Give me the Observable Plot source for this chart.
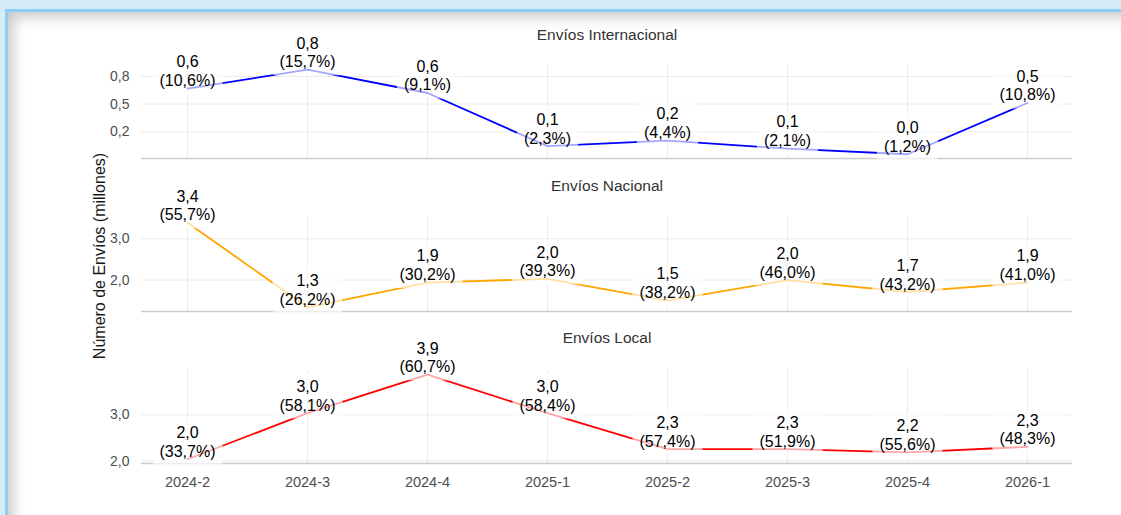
<!DOCTYPE html>
<html>
<head>
<meta charset="utf-8">
<script src="https://cdn.jsdelivr.net/npm/d3@7"></script>
<script src="https://cdn.jsdelivr.net/npm/@observablehq/plot@0.6"></script>
<style>
html, body { margin:0; padding:0; width:1121px; height:515px; overflow:hidden; background:#d5ecf9; font-family:"Liberation Sans", Arial, sans-serif; }
#card { position:absolute; left:5px; top:9px; width:1300px; height:700px; background:#fff;
  border-left:3px solid #8ccff0; border-top:3px solid #8ccff0;
  box-shadow: inset 5px 5px 14px rgba(0,0,0,0.22); }
.panel { position:absolute; left:0; }
#ylab { position:absolute; left:100px; top:256px; transform:translate(-50%,-50%) rotate(-90deg);
  font-size:16px; color:#1a1a1a; white-space:nowrap; }
</style>
</head>
<body>
<div id="card"></div>
<div id="ylab">Número de Envíos (millones)</div>
<div id="p1" class="panel" style="top:0px"></div>
<div id="p2" class="panel" style="top:160px"></div>
<div id="p3" class="panel" style="top:313px"></div>
<script>
// ---- data (millions of shipments, and share of the quarter's total) ----
const quarters = ["2024-2","2024-3","2024-4","2025-1","2025-2","2025-3","2025-4","2026-1"];

const intlValues  = [0.64, 0.81, 0.60, 0.12, 0.17, 0.098, 0.047, 0.51];
const intlPct     = [10.6, 15.7, 9.1, 2.3, 4.4, 2.1, 1.2, 10.8];

const nacValues   = [3.39, 1.34, 1.94, 2.03, 1.50, 2.00, 1.71, 1.94];
const nacPct      = [55.7, 26.2, 30.2, 39.3, 38.2, 46.0, 43.2, 41.0];

const localValues = [2.04, 3.04, 3.87, 3.04, 2.26, 2.26, 2.19, 2.31];
const localPct    = [33.7, 58.1, 60.7, 58.4, 57.4, 51.9, 55.6, 48.3];

const intlTicks = [0.25, 0.5, 0.75];
const intlTickLabels = ["0,2", "0,5", "0,8"];
const nacTicks = [2, 3];
const nacTickLabels = ["2,0", "3,0"];
const localTicks = [2, 3];
const localTickLabels = ["2,0", "3,0"];

const titles = ["Envíos Internacional", "Envíos Nacional", "Envíos Local"];
const colors = ["#0000ff", "#ffa500", "#ff0000"];

const fmt = v => v.toFixed(1).replace(".", ",");
const FONT = "Liberation Sans, Arial, sans-serif";

function addBoxes(svg) {
  svg.querySelectorAll('g[aria-description="value labels"] text').forEach(t => {
    const b = t.getBBox();
    const r = document.createElementNS("http://www.w3.org/2000/svg", "rect");
    r.setAttribute("x", b.x - 7);
    r.setAttribute("y", b.y - 4);
    r.setAttribute("width", b.width + 14);
    r.setAttribute("height", b.height + 9);
    r.setAttribute("rx", 3);
    r.setAttribute("fill", "#ffffff");
    r.setAttribute("fill-opacity", 0.65);
    r.setAttribute("stroke", "none");
    const tr = t.getAttribute("transform");
    if (tr) r.setAttribute("transform", tr);
    t.parentNode.insertBefore(r, t);
  });
}

function panel(el, {values, pct, color, title, ticks, tickLabels, marginTop, height, marginBottom, titleDy, showX}) {
  const data = quarters.map((q, i) => ({q, v: values[i], label: fmt(values[i]) + "\n(" + fmt(pct[i]) + "%)"}));
  const mn = d3.min(values), mx = d3.max(values), r = mx - mn;
  const y0 = mn - 0.05 * r, y1 = mx + 0.05 * r;
  const tickMap = new Map(ticks.map((t, i) => [t, tickLabels[i]]));
  const marks = [
    Plot.gridX(quarters, {stroke: "#ebebeb", strokeOpacity: 1, strokeWidth: 1}),
    Plot.gridY(ticks, {stroke: "#ebebeb", strokeOpacity: 1, strokeWidth: 1}),
    Plot.axisY(ticks, {tickFormat: d => tickMap.get(d), tickSize: 0, tickPadding: 12, line: true,
      stroke: "#cccccc", strokeWidth: 1.5, fill: "#4d4d4d", fontSize: 14, label: null}),
    Plot.ruleY([y0], {stroke: "#cccccc", strokeWidth: 1.5}),
    Plot.line(data, {x: "q", y: "v", stroke: color, strokeWidth: 1.8}),
    Plot.text(data, {x: "q", y: "v", text: "label", lineAnchor: "bottom", dy: -2.5, fontSize: 16,
      lineHeight: 1.17, fill: "#000000", ariaDescription: "value labels"}),
    Plot.text([title], {frameAnchor: "top", lineAnchor: "middle", dy: titleDy, fontSize: 15.5, fill: "#333333"})
  ];
  if (showX) marks.push(Plot.axisX(quarters, {tickSize: 0, tickPadding: 13, fontSize: 14.5, fill: "#4d4d4d", label: null}));
  const svg = Plot.plot({
    width: 1121, height, marginLeft: 141, marginRight: 49, marginTop, marginBottom,
    style: {fontFamily: FONT, background: "transparent", overflow: "visible"},
    x: {type: "point", domain: quarters, padding: 0.35, axis: null, label: null},
    y: {domain: [y0, y1], axis: null, label: null},
    marks
  });
  el.appendChild(svg);
  addBoxes(svg);
}

panel(document.getElementById("p1"), {values: intlValues, pct: intlPct, color: colors[0], title: titles[0],
  ticks: intlTicks, tickLabels: intlTickLabels, marginTop: 65, height: 160, marginBottom: 2, titleDy: -30, showX: false});
panel(document.getElementById("p2"), {values: nacValues, pct: nacPct, color: colors[1], title: titles[1],
  ticks: nacTicks, tickLabels: nacTickLabels, marginTop: 58, height: 153, marginBottom: 2, titleDy: -32, showX: false});
panel(document.getElementById("p3"), {values: localValues, pct: localPct, color: colors[2], title: titles[2],
  ticks: localTicks, tickLabels: localTickLabels, marginTop: 57, height: 180, marginBottom: 30, titleDy: -32, showX: true});
</script>
</body>
</html>
